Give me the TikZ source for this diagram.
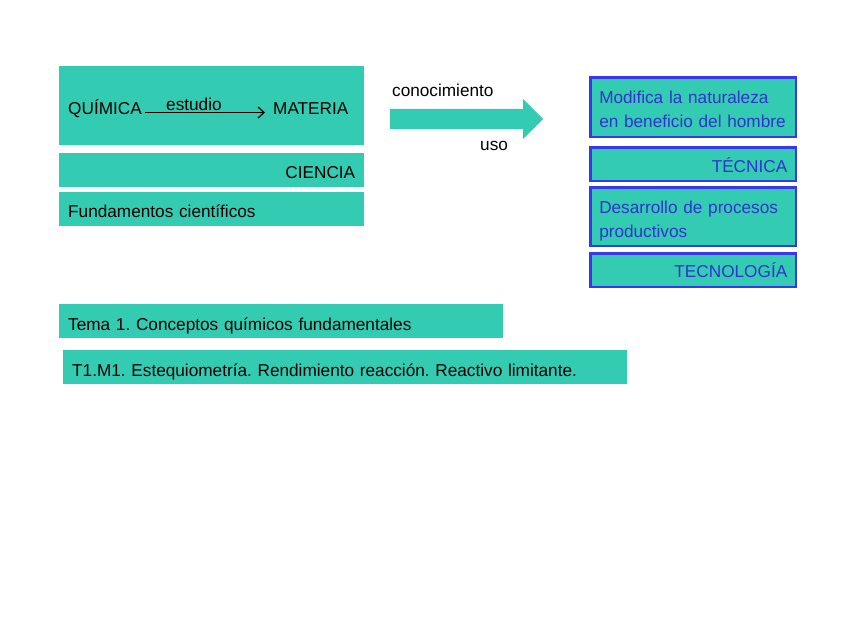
\documentclass[tikz,border=0pt]{standalone}
\usepackage{fontspec}
\setmainfont{Liberation Sans}
\usetikzlibrary{arrows.meta}
\definecolor{tealfill}{RGB}{51,204,179}
\definecolor{boxblue}{RGB}{55,55,235}
\definecolor{textblue}{RGB}{50,50,205}
\frenchspacing
\begin{document}
\begin{tikzpicture}[x=1pt,y=-1pt,
  every node/.style={font=\fontsize{17.2}{24.5}\selectfont},
  txt/.style={inner sep=0pt},
  tealbox/.style={fill=tealfill,anchor=north west,inner xsep=9pt,inner ysep=0pt},
  bluebox/.style={fill=tealfill,draw=boxblue,line width=2.5pt,text=textblue,anchor=north west,inner xsep=8.75pt,inner ysep=0pt,minimum width=205.5pt,text width=188pt}]
\useasboundingbox (0,0) rectangle (848,636);
% left block
\node[tealbox,minimum width=305pt,minimum height=79pt] (cajaquim) at (59,66) {};
\node[tealbox,minimum width=305pt,text height=25pt,text depth=9pt,text width=287pt,align=right] (ciencia) at (59,153) {CIENCIA};
\node[tealbox,minimum width=305pt,text height=25pt,text depth=9pt,text width=287pt,align=left] (fund) at (59,192) {Fundamentos científicos};
\node[txt,anchor=base west] (quim) at (68,114.5) {QUÍMICA};
\node[txt,anchor=base west] (mat) at (273,114.5) {MATERIA};
\draw[line width=1.3pt,-{Straight Barb[length=6pt,width=11pt]}] ([shift={(2.6,-2)}]quim.base east) -- node[txt,pos=0.41,anchor=base,yshift=2pt] (estudio) {estudio} ([shift={(-8,-2)}]mat.base west);
% big arrow
\fill[tealfill] (390,109) -- (523,109) -- (523,99) -- (543,119) -- (523,139) -- (523,129) -- (390,129) -- cycle;
\node[txt,anchor=base west] (conoc) at (392,97) {conocimiento};
\node[txt,anchor=base west] (uso) at (480,151) {uso};
% right block
\node[bluebox,text height=25.75pt,text depth=33.75pt,align=left] (modif) at (589.25,76.25) {Modifica la naturaleza\\en beneficio del hombre};
\node[bluebox,text height=24.75pt,text depth=8.75pt,align=right] (tecnica) at (589.25,146.25) {TÉCNICA};
\node[bluebox,text height=25.75pt,text depth=32.75pt,align=left] (desarr) at (589.25,186.25) {Desarrollo de procesos\\productivos};
\node[bluebox,text height=23.75pt,text depth=9.75pt,align=right] (tecnol) at (589.25,252.25) {TECNOLOGÍA};
% bottom titles
\node[tealbox,minimum width=444pt,text height=26pt,text depth=8pt,text width=426pt,align=left] (tema) at (59,304) {Tema 1. Conceptos químicos fundamentales};
\node[tealbox,minimum width=564pt,text height=26pt,text depth=8pt,text width=546pt,align=left] (modulo) at (63,350) {T1.M1. Estequiometría. Rendimiento reacción. Reactivo limitante.};
\end{tikzpicture}
\end{document}
